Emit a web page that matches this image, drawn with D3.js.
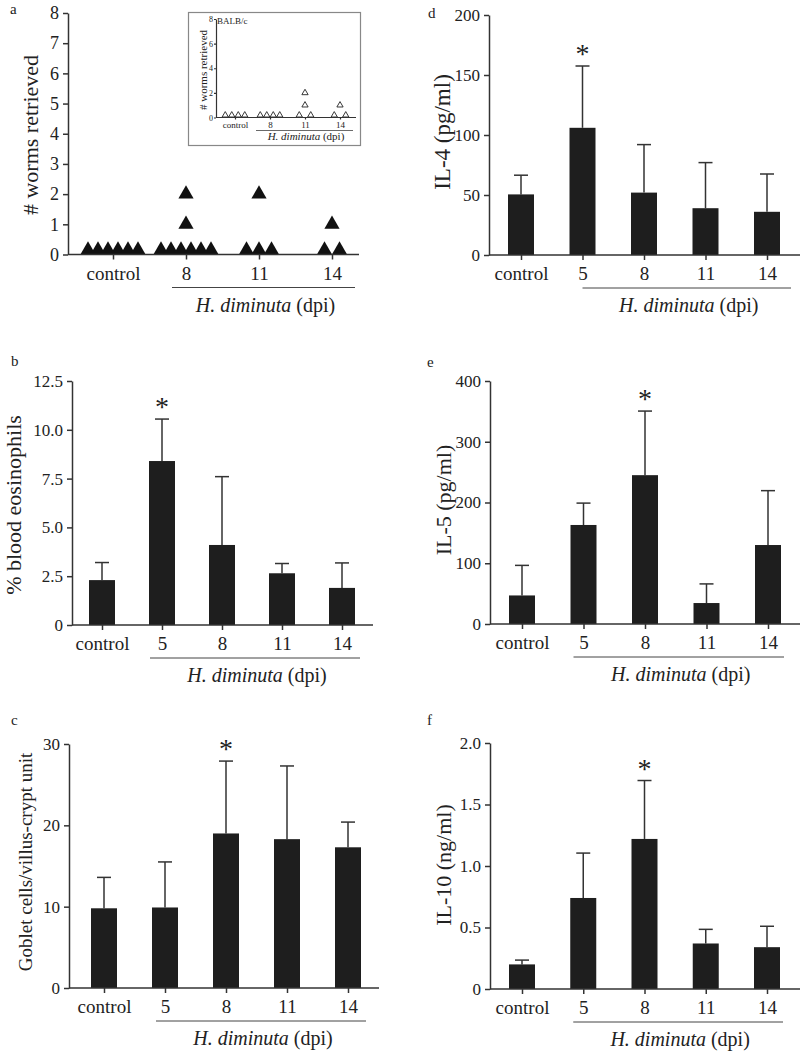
<!DOCTYPE html>
<html><head><meta charset="utf-8">
<script src="https://cdn.jsdelivr.net/npm/d3@7"></script>
<style>
body{margin:0;background:#fff}
svg{display:block}
text{font-family:"Liberation Serif","Times New Roman",serif;fill:#222}
</style>
</head><body>
<svg id="chart" width="800" height="1054"></svg>
<script>
// ---------------- DATA ----------------
const categories = ["control", "5", "8", "11", "14"];
const wormCategories = ["control", "8", "11", "14"];

// Panel a: worms retrieved per mouse (main strain)
const wormsControl = [0, 0, 0, 0, 0, 0];
const worms8 = [0, 0, 0, 0, 0, 0, 1, 2];
const worms11 = [0, 0, 0, 2];
const worms14 = [0, 0, 1];
// Inset: BALB/c
const balbControl = [0, 0, 0, 0];
const balb8 = [0, 0, 0, 0];
const balb11 = [0, 0, 1, 2];
const balb14 = [0, 0, 1];

// Panel b: % blood eosinophils
const eosMean = [2.3, 8.4, 4.1, 2.65, 1.9];
const eosErr = [0.9, 2.15, 3.5, 0.5, 1.28];
// Panel c: goblet cells / villus-crypt unit
const gobletMean = [9.8, 9.9, 19.0, 18.3, 17.3];
const gobletErr = [3.8, 5.6, 8.9, 9.0, 3.1];
// Panel d: IL-4 (pg/ml)
const il4Mean = [50.5, 106, 52, 39, 36];
const il4Err = [16, 51.5, 40, 38, 31.5];
// Panel e: IL-5 (pg/ml)
const il5Mean = [47, 163, 245, 34.5, 130];
const il5Err = [49.5, 36, 105.5, 31.5, 89.5];
// Panel f: IL-10 (ng/ml)
const il10Mean = [0.20, 0.74, 1.22, 0.37, 0.34];
const il10Err = [0.035, 0.365, 0.475, 0.115, 0.17];

const eosTicks = [0, 2.5, 5, 7.5, 10, 12.5];
const gobletTicks = [0, 10, 20, 30];
const il4Ticks = [0, 50, 100, 150, 200];
const il5Ticks = [0, 100, 200, 300, 400];
const il10Ticks = [0, 0.5, 1, 1.5, 2];
const wormTicks = [0, 1, 2, 3, 4, 5, 6, 7, 8];
const insetTicks = [0, 2, 4, 6, 8];

// ---------------- DRAWING ----------------
const svg = d3.select("#chart");
const FONT = '"Liberation Serif","Times New Roman",serif';
const AX = "#333";

function styleAxis(g, size) {
  g.attr("font-family", FONT).attr("font-size", size).attr("color", AX);
  g.selectAll("path,line").attr("stroke-width", 1.5);
  g.selectAll("text").attr("fill", "#222");
}

function drawXAxis(g, x, y0, p) {
  g.append("line").attr("x1", p.ax0).attr("x2", p.ax1).attr("y1", y0).attr("y2", y0)
    .attr("stroke", AX).attr("stroke-width", 1.5);
  const xa = g.append("g").attr("transform", `translate(0,${y0})`)
    .call(d3.axisBottom(x).tickSize(5).tickSizeOuter(0));
  xa.select(".domain").remove();
  styleAxis(xa, 19);
  xa.selectAll("text").attr("dy", null).attr("y", 25);
  // underline & label
  const ux0 = x(p.ulFrom) + p.ulPad[0], ux1 = x(p.ulTo) + p.ulPad[1];
  g.append("line").attr("x1", ux0).attr("x2", ux1).attr("y1", y0 + 33).attr("y2", y0 + 33)
    .attr("stroke", "#444").attr("stroke-width", 1);
  const t = g.append("text").attr("x", (ux0 + ux1) / 2 + 2).attr("y", y0 + 57)
    .attr("text-anchor", "middle").attr("font-size", 20);
  t.append("tspan").attr("font-style", "italic").text("H. diminuta");
  t.append("tspan").text(" (dpi)");
}

function drawYLabel(g, text, cx, cy, size) {
  g.append("text").attr("transform", `translate(${cx},${cy}) rotate(-90)`)
    .attr("text-anchor", "middle").attr("dominant-baseline", "central")
    .attr("font-size", size).text(text);
}

function fmtTick(decimals) {
  return v => v === 0 ? "0" : d3.format(`.${decimals}f`)(v);
}

function barPanel(p) {
  const g = svg.append("g");
  const x = d3.scalePoint().domain(categories).range(p.xr);
  const y = d3.scaleLinear().domain([0, p.ymax]).range(p.yr);
  const data = categories.map((c, i) => ({ c, m: p.mean[i], e: p.err[i] }));
  const bw = 26;

  // error bars (upper only)
  g.selectAll("line.err").data(data).join("line")
    .attr("x1", d => x(d.c)).attr("x2", d => x(d.c))
    .attr("y1", d => y(d.m)).attr("y2", d => y(d.m + d.e))
    .attr("stroke", AX).attr("stroke-width", 1.5);
  g.selectAll("line.cap").data(data).join("line")
    .attr("x1", d => x(d.c) - 7).attr("x2", d => x(d.c) + 7)
    .attr("y1", d => y(d.m + d.e)).attr("y2", d => y(d.m + d.e))
    .attr("stroke", AX).attr("stroke-width", 1.5);
  // bars
  g.selectAll("rect.bar").data(data).join("rect")
    .attr("x", d => x(d.c) - bw / 2).attr("width", bw)
    .attr("y", d => y(d.m)).attr("height", d => y(0) - y(d.m))
    .attr("fill", "#1e1e1e");

  // y axis
  const ya = g.append("g").attr("transform", `translate(${p.ax0},0)`)
    .call(d3.axisLeft(y).tickValues(p.ticks).tickSize(5).tickSizeOuter(0).tickPadding(4).tickFormat(fmtTick(p.dec)));
  styleAxis(ya, 17);

  drawXAxis(g, x, y(0), p);
  drawYLabel(g, p.label, p.labX, p.labY, p.labSize);

  // significance star
  const s = data.find(d => d.c === p.sig);
  g.append("text").attr("x", x(s.c)).attr("y", y(s.m + s.e) - 3)
    .attr("text-anchor", "middle").attr("font-size", 28).text("*");

  // panel letter
  g.append("text").attr("x", p.letterX).attr("y", p.letterY).attr("font-size", 15).text(p.letter);
}

function spread(vals, spacingFn) {
  const out = [];
  const groups = d3.group(vals, v => v);
  for (const [v, arr] of groups) {
    const n = arr.length, s = spacingFn(n);
    arr.forEach((_, k) => out.push({ v, dx: (k - (n - 1) / 2) * s }));
  }
  return out;
}

// ---- Panel a (main scatter) ----
(function () {
  const g = svg.append("g");
  const p = { ax0: 68, ax1: 359, ulFrom: "8", ulTo: "14", ulPad: [-14, 23] };
  const x = d3.scalePoint().domain(wormCategories).range([113, 332]);
  const y = d3.scaleLinear().domain([0, 8]).range([254.5, 13]);
  const series = [wormsControl, worms8, worms11, worms14];
  const pts = [];
  series.forEach((vals, i) => spread(vals, n => n >= 4 ? 10 : n === 3 ? 12.5 : 15)
    .forEach(d => pts.push({ c: wormCategories[i], ...d })));
  const tri = d3.symbol().type(d3.symbolTriangle).size(100);
  const hb = Math.sqrt(100 / (Math.sqrt(3) * 3)); // centroid-to-base offset
  g.selectAll("path.pt").data(pts).join("path")
    .attr("d", tri)
    .attr("transform", d => `translate(${x(d.c) + d.dx},${y(d.v) - (d.v === 0 ? hb : 0)})`)
    .attr("fill", "#111");

  const ya = g.append("g").attr("transform", `translate(${p.ax0},0)`)
    .call(d3.axisLeft(y).tickValues(wormTicks).tickSize(5).tickSizeOuter(0).tickPadding(4));
  styleAxis(ya, 18);
  drawXAxis(g, x, y(0), p);
  drawYLabel(g, "# worms retrieved", 30, 135, 22);
  g.append("text").attr("x", 10).attr("y", 14).attr("font-size", 15).text("a");

  // ---- Inset ----
  const ig = svg.append("g");
  ig.append("rect").attr("x", 188.5).attr("y", 12.5).attr("width", 172).attr("height", 133)
    .attr("fill", "#fff").attr("stroke", "#888").attr("stroke-width", 1.2);
  const ix = d3.scalePoint().domain(wormCategories).range([235, 340]);
  const iy = d3.scaleLinear().domain([0, 8]).range([117.5, 19]);
  const iseries = [balbControl, balb8, balb11, balb14];
  const ipts = [];
  iseries.forEach((vals, i) => spread(vals, n => n >= 4 ? 6.5 : 11.5)
    .forEach(d => ipts.push({ c: wormCategories[i], ...d })));
  const itri = d3.symbol().type(d3.symbolTriangle).size(17);
  const ihb = Math.sqrt(17 / (Math.sqrt(3) * 3));
  ig.selectAll("path.ipt").data(ipts).join("path")
    .attr("d", itri)
    .attr("transform", d => `translate(${ix(d.c) + d.dx},${iy(d.v) - (d.v === 0 ? ihb + 0.5 : 0)})`)
    .attr("fill", "#fff").attr("stroke", "#222").attr("stroke-width", 0.9);
  const iya = ig.append("g").attr("transform", "translate(216,0)")
    .call(d3.axisLeft(iy).tickValues(insetTicks).tickSize(2).tickSizeOuter(0).tickPadding(1));
  iya.attr("font-family", FONT).attr("font-size", 8).attr("color", AX);
  iya.selectAll("path,line").attr("stroke-width", 1.2);
  iya.selectAll("text").attr("fill", "#222");
  ig.append("line").attr("x1", 216).attr("x2", 356).attr("y1", iy(0)).attr("y2", iy(0))
    .attr("stroke", AX).attr("stroke-width", 1.2);
  const ixa = ig.append("g").attr("transform", `translate(0,${iy(0)})`)
    .call(d3.axisBottom(ix).tickSize(2).tickSizeOuter(0));
  ixa.select(".domain").remove();
  ixa.attr("font-family", FONT).attr("font-size", 9).attr("color", AX);
  ixa.selectAll("line").attr("stroke-width", 1.2);
  ixa.selectAll("text").attr("dy", null).attr("y", 10.5).attr("fill", "#222");
  ig.append("line").attr("x1", 256).attr("x2", 353).attr("y1", 130.5).attr("y2", 130.5)
    .attr("stroke", "#444").attr("stroke-width", 0.8);
  const it = ig.append("text").attr("x", 306).attr("y", 140).attr("text-anchor", "middle").attr("font-size", 11);
  it.append("tspan").attr("font-style", "italic").text("H. diminuta");
  it.append("tspan").text(" (dpi)");
  drawYLabel(ig, "# worms retrieved", 203, 70, 11);
  ig.append("text").attr("x", 217).attr("y", 24).attr("font-size", 9).text("BALB/c");
})();

// ---- Bar panels ----
barPanel({ letter: "b", letterX: 11, letterY: 366, mean: eosMean, err: eosErr, ymax: 12.5,
  yr: [625, 381], xr: [102, 342], ax0: 72, ax1: 373, ticks: eosTicks, dec: 1,
  label: "% blood eosinophils", labX: 13, labY: 505, labSize: 22, sig: "5",
  ulFrom: "5", ulTo: "14", ulPad: [-12, 18] });
barPanel({ letter: "c", letterX: 11, letterY: 725, mean: gobletMean, err: gobletErr, ymax: 30,
  yr: [988, 744], xr: [104, 348], ax0: 69, ax1: 379, ticks: gobletTicks, dec: 0,
  label: "Goblet cells/villus-crypt unit", labX: 25, labY: 862, labSize: 19, sig: "8",
  ulFrom: "5", ulTo: "14", ulPad: [-9, 18] });
barPanel({ letter: "d", letterX: 428, letterY: 18, mean: il4Mean, err: il4Err, ymax: 200,
  yr: [255, 15], xr: [521, 767], ax0: 489, ax1: 800, ticks: il4Ticks, dec: 0,
  label: "IL-4 (pg/ml)", labX: 442, labY: 132, labSize: 23, sig: "5",
  ulFrom: "5", ulTo: "14", ulPad: [0, 24] });
barPanel({ letter: "e", letterX: 427, letterY: 367, mean: il5Mean, err: il5Err, ymax: 400,
  yr: [624, 381], xr: [522, 768], ax0: 490, ax1: 800, ticks: il5Ticks, dec: 0,
  label: "IL-5 (pg/ml)", labX: 443, labY: 500, labSize: 22, sig: "8",
  ulFrom: "5", ulTo: "14", ulPad: [-10, 16] });
barPanel({ letter: "f", letterX: 427, letterY: 725, mean: il10Mean, err: il10Err, ymax: 2,
  yr: [989, 743], xr: [522, 767], ax0: 490, ax1: 800, ticks: il10Ticks, dec: 1,
  label: "IL-10 (ng/ml)", labX: 443, labY: 865, labSize: 22, sig: "8",
  ulFrom: "5", ulTo: "14", ulPad: [-10, 16] });
</script>
</body></html>
